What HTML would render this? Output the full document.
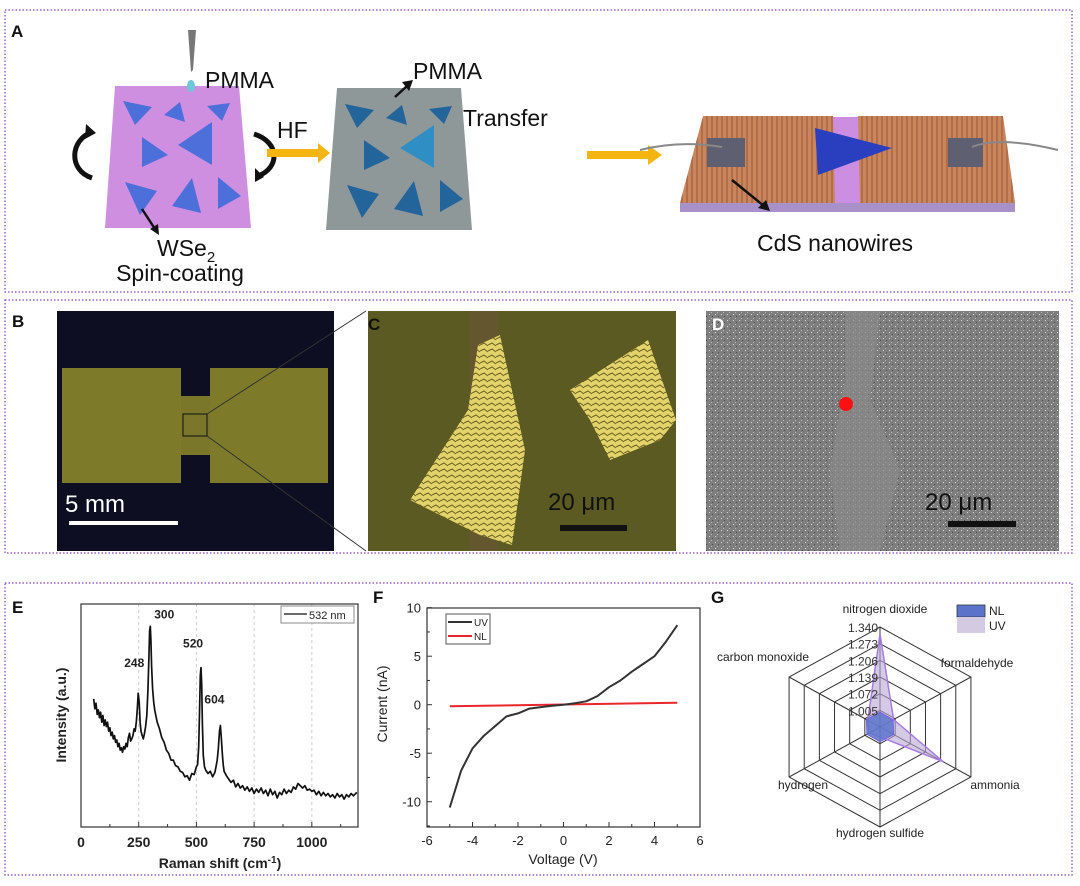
<!DOCTYPE html>
<html><head><meta charset="utf-8"><style>
html,body{margin:0;padding:0;background:#fff}
svg{display:block;font-family:"Liberation Sans",Arial,sans-serif}
</style></head><body>
<svg id="fig" width="1080" height="886" viewBox="0 0 1080 886" xmlns="http://www.w3.org/2000/svg">
<defs>
<pattern id="wires" width="5" height="6" patternUnits="userSpaceOnUse"><rect width="5" height="6" fill="#c9865c"/><line x1="2" y1="0" x2="2" y2="6" stroke="#9a5533" stroke-width="1"/></pattern>
<pattern id="sem" width="6" height="6" patternUnits="userSpaceOnUse"><rect width="6" height="6" fill="#7e7e7e"/><rect x="1" y="2" width="1" height="1" fill="#d8d8d8"/><rect x="4" y="4" width="1" height="1" fill="#4a4a4a"/><rect x="3" y="0" width="1" height="1" fill="#bbb"/></pattern>
<pattern id="flake" width="8" height="6" patternUnits="userSpaceOnUse"><rect width="8" height="6" fill="#e2d36a"/><path d="M0 3 L4 1 L8 4" stroke="#6b5f22" stroke-width="1" fill="none"/></pattern>
</defs>

<rect x="5" y="10" width="1067" height="282" fill="none" stroke="#9b5fc9" stroke-width="1.5" stroke-dasharray="1.5,2"/>
<rect x="5" y="300" width="1067" height="253" fill="none" stroke="#9b5fc9" stroke-width="1.5" stroke-dasharray="1.5,2"/>
<rect x="5" y="583" width="1067" height="292" fill="none" stroke="#9b5fc9" stroke-width="1.5" stroke-dasharray="1.5,2"/>

<g>
<text x="11" y="37" font-size="17" font-weight="bold" fill="#111">A</text>
<polygon points="115,86 239,86 251,228 105,228" fill="#cf8fe0"/>
<g fill="#4d6fd9">
<polygon points="123,101 152,107 135,125"/><polygon points="164,115 180,102 185,122"/><polygon points="207,106 230,103 222,121"/>
<polygon points="142,137 168,155 142,167"/><polygon points="178,145 212,122 212,165"/><polygon points="125,182 157,191 140,215"/>
<polygon points="172,206 192,178 201,213"/><polygon points="218,177 241,196 218,209"/>
</g>
<polygon points="188,30 196,30 193,70 191,72" fill="#777"/>
<ellipse cx="191" cy="86" rx="4" ry="6" fill="#6cc7d8"/>
<text x="205" y="88" font-size="23" fill="#111">PMMA</text>
<path d="M92,132 C70,140 68,170 92,178" fill="none" stroke="#111" stroke-width="5"/>
<polygon points="86,124 96,133 85,139" fill="#111"/>
<path d="M254,134 C280,142 280,168 258,176" fill="none" stroke="#111" stroke-width="5"/>
<polygon points="255,168 255,182 264,177" fill="#111"/>
<line x1="142" y1="209" x2="155" y2="229" stroke="#111" stroke-width="2.5"/><polygon points="150,229 159,235 158,224" fill="#111"/>
<text x="157" y="256" font-size="23" fill="#111">WSe<tspan font-size="15" dy="6">2</tspan></text>
<text x="180" y="281" font-size="23" fill="#111" text-anchor="middle">Spin-coating</text>
<text x="277" y="138" font-size="23" fill="#111">HF</text>
<polygon points="267,149 318,149 318,143 330,153 318,163 318,157 267,157" fill="#f4b512"/>
<polygon points="337,88 461,88 472,230 326,230" fill="#8f9899"/>
<g fill="#23649a">
<polygon points="345,104 374,110 357,128"/><polygon points="386,118 402,105 407,125"/><polygon points="429,109 452,106 444,124"/>
<polygon points="364,140 390,158 364,170"/><polygon points="400,148 434,125 434,168" fill="#2f8fc4"/><polygon points="347,185 379,194 362,218"/>
<polygon points="394,209 414,181 423,216"/><polygon points="440,180 463,199 440,212"/>
</g>
<line x1="395" y1="97" x2="407" y2="86" stroke="#111" stroke-width="2.5"/><polygon points="402,82 413,80 409,91" fill="#111"/>
<text x="413" y="79" font-size="23" fill="#111">PMMA</text>
<text x="463" y="126" font-size="23" fill="#111">Transfer</text>
<polygon points="587,151 648,151 648,145 662,155 648,165 648,159 587,159" fill="#f4b512"/>
<g>
<polygon points="680,203 1015,203 1015,212 680,212" fill="#a890c8"/>
<polygon points="703,117 1003,117 1015,203 680,203" fill="#cc8ee0"/>
<polygon points="703,116 833,116 835,203 680,203" fill="url(#wires)"/>
<polygon points="858,116 1003,116 1015,203 860,203" fill="url(#wires)"/>
<polygon points="707,138 745,138 745,167 707,167" fill="#5e5f70"/>
<polygon points="948,138 983,138 983,167 948,167" fill="#5e5f70"/>
<polygon points="815,128 892,148 818,175" fill="#2a3fc0"/>
<path d="M640,150 Q680,140 722,147" stroke="#888" stroke-width="2" fill="none"/>
<path d="M972,147 Q1000,136 1058,150" stroke="#888" stroke-width="2" fill="none"/>
<line x1="732" y1="180" x2="764" y2="206" stroke="#111" stroke-width="2.5"/><polygon points="758,208 770,211 766,200" fill="#111"/>
</g>
<text x="835" y="251" font-size="23" fill="#111" text-anchor="middle">CdS nanowires</text>
</g>

<g>
<rect x="57" y="311" width="277" height="240" fill="#0d0e22"/>
<rect x="62" y="368" width="119" height="115" fill="#7d7a2a"/>
<rect x="210" y="368" width="118" height="115" fill="#7d7a2a"/>
<rect x="181" y="396" width="29" height="59" fill="#7a772a"/>
<rect x="183" y="414" width="24" height="22" fill="none" stroke="#111" stroke-width="1"/>
<text x="65" y="512" font-size="24" fill="#fff">5 mm</text>
<rect x="69" y="521" width="109" height="4" fill="#fff"/>
<text x="12" y="327" font-size="17" font-weight="bold" fill="#111">B</text>
<line x1="207" y1="414" x2="366" y2="311" stroke="#333" stroke-width="1"/>
<line x1="207" y1="436" x2="366" y2="551" stroke="#333" stroke-width="1"/>
</g>
<g>
<rect x="368" y="311" width="308" height="240" fill="#5a5a22"/>
<rect x="470" y="311" width="28" height="240" fill="#6a5538" opacity="0.6"/>
<polygon points="468,410 478,345 500,335 525,450 512,545 480,535 410,500" fill="url(#flake)"/>
<polygon points="570,390 648,340 676,420 660,440 610,460 590,420" fill="url(#flake)"/>
<text x="368" y="330" font-size="17" font-weight="bold" fill="#111">C</text>
<text x="548" y="510" font-size="24" fill="#111">20 μm</text>
<rect x="560" y="525" width="67" height="6" fill="#111"/>
</g>
<g>
<rect x="706" y="311" width="353" height="240" fill="url(#sem)"/>
<polygon points="845,311 880,311 870,400 900,470 880,551 840,551 830,470 845,380" fill="#8a8a8a" opacity="0.7"/>
<circle cx="846" cy="404" r="7" fill="#ff1010"/>
<text x="712" y="330" font-size="17" font-weight="bold" fill="#fff">D</text>
<text x="925" y="510" font-size="24" fill="#111">20 μm</text>
<rect x="948" y="521" width="68" height="6" fill="#111"/>
</g>

<g id="panelE"></g>
<g id="panelF"></g>
<g id="panelG"></g>
</svg>

<script>
const ramanShift = [55,60,65,70,75,80,85,90,95,100,105,110,115,120,125,130,135,140,145,150,155,160,165,170,175,180,185,190,195,200,205,210,215,220,225,230,235,240,244,248,252,256,260,265,270,275,280,285,290,294,297,300,303,306,310,315,320,330,340,350,360,370,380,390,400,410,420,430,440,450,460,470,480,490,500,505,510,514,517,520,523,526,530,535,540,550,560,570,580,585,590,595,600,604,608,612,616,620,630,640,650,660,670,680,690,700,710,720,730,740,750,760,770,780,790,800,810,820,830,840,850,860,870,880,890,900,910,920,930,940,950,960,970,980,990,1000,1010,1020,1030,1040,1050,1060,1070,1080,1090,1100,1110,1120,1130,1140,1150,1160,1170,1180,1195];
const ramanIntensity = [575,530,555,505,525,490,515,470,500,455,480,450,470,430,445,410,425,395,410,380,390,360,375,345,355,335,360,350,375,360,400,420,385,395,410,440,430,475,530,600,560,470,430,410,395,420,450,500,610,760,880,900,840,720,620,560,520,470,440,400,380,345,330,300,300,275,270,250,245,225,230,210,240,235,270,280,360,530,680,715,640,460,320,270,255,240,250,225,245,270,300,350,430,455,400,330,280,250,230,215,200,210,180,195,175,185,165,180,160,175,150,170,155,175,150,165,140,170,145,160,130,155,145,170,150,165,155,180,170,195,185,175,185,165,170,160,165,145,160,140,155,140,150,135,145,130,150,135,145,125,145,135,150,140,155];
const ramanTicks = [0,250,500,750,1000];
const ramanPeakLabels = ["248","300","520","604"];
const ramanPeakShifts = [248,300,520,604];
const voltage = [-5,-4.5,-4,-3.5,-3,-2.5,-2,-1.5,-1,-0.5,0,0.5,1,1.5,2,2.5,3,3.5,4,4.5,5];
const currentUV = [-10.6,-6.8,-4.5,-3.2,-2.2,-1.2,-0.9,-0.4,-0.25,-0.1,0,0.15,0.35,0.9,1.8,2.5,3.4,4.2,5.0,6.5,8.2];
const voltageNL = [-5,5];
const currentNL = [-0.15,0.2];
const fXTicks = [-6,-4,-2,0,2,4,6];
const fYTicks = [-10,-5,0,5,10];
const gasCategories = ["nitrogen dioxide","formaldehyde","ammonia","hydrogen sulfide","hydrogen","carbon monoxide"];
const responseUV = [1.312,0.998,1.218,0.978,0.986,0.992];
const responseNL = [0.998,0.996,0.998,0.997,0.996,0.998];
const radarTicks = ["1.005","1.072","1.139","1.206","1.273","1.340"];
const radarTickValues = [1.005,1.072,1.139,1.206,1.273,1.340];

const NS = "http://www.w3.org/2000/svg";
function mk(parent, tag, attrs, text){
  const e = document.createElementNS(NS, tag);
  for (const k in attrs) e.setAttribute(k, attrs[k]);
  if (text !== undefined) e.textContent = text;
  parent.appendChild(e); return e;
}

(function(){
  const g = document.getElementById('panelE');
  const L=81,R=358,T=604,B=827;
  const xs = v => L + (v-0)/(1200-0)*(R-L);
  const ys = v => B - (v-0)/(1000-0)*(B-T);
  let t = mk(g,'text',{x:12,y:613,'font-size':17,'font-weight':'bold',fill:'#111'},'E');
   
  ramanTicks.slice(1).forEach(v=>{
    const l = mk(g,'line',{x1:xs(v),x2:xs(v),y1:T,y2:B,stroke:'#ccc','stroke-width':1,'stroke-dasharray':'3,3'});
     
  });
  const fr = mk(g,'rect',{x:L,y:T,width:R-L,height:B-T,fill:'none',stroke:'#333','stroke-width':1.2});
   
  for(let v=0; v<=1200; v+=125){
    const major = ramanTicks.indexOf(v)>=0;
    mk(g,'line',{x1:xs(v),x2:xs(v),y1:B,y2:B-(major?5:3),stroke:'#333','stroke-width':1});
  }
  ramanTicks.forEach(v=>{
    const tl = mk(g,'text',{x:xs(v),y:847,'font-size':14,'font-weight':'bold','text-anchor':'middle',fill:'#222'},String(v));
     
  });
  const d = ramanShift.map((s,i)=>(i?'L':'M')+xs(s).toFixed(1)+','+ys(ramanIntensity[i]).toFixed(1)).join(' ');
  const p = mk(g,'path',{d:d,fill:'none',stroke:'#111','stroke-width':1.7,'stroke-linejoin':'round'});
   
  const offs = [[-4,-26],[14,-8],[-8,-20],[-6,-22]];
  ramanPeakLabels.forEach((lab,i)=>{
    const idx = ramanShift.indexOf(ramanPeakShifts[i]);
    const yv = idx>=0 ? ramanIntensity[idx] : 500;
    const pl = mk(g,'text',{x:xs(ramanPeakShifts[i])+offs[i][0],y:ys(yv)+offs[i][1],'font-size':12,'font-weight':'bold','text-anchor':'middle',fill:'#222'},lab);
     
  });
  const lg = mk(g,'g',{});
   
  mk(lg,'rect',{x:281,y:606,width:73,height:17,fill:'#fff',stroke:'#888','stroke-width':1});
  mk(lg,'line',{x1:284,x2:307,y1:614,y2:614,stroke:'#111','stroke-width':1.3});
  mk(lg,'text',{x:309,y:619,'font-size':11,fill:'#222'},'532 nm');
  const yt = mk(g,'text',{x:0,y:0,'font-size':14,'font-weight':'bold','text-anchor':'middle',fill:'#222',transform:'translate(66,715) rotate(-90)'},'Intensity (a.u.)');
   
  const xt = mk(g,'text',{x:220,y:868,'font-size':14,'font-weight':'bold','text-anchor':'middle',fill:'#222'},'Raman shift (cm');
  mk(xt,'tspan',{dy:-5,'font-size':10},'-1');
  mk(xt,'tspan',{dy:5},')');
   
})();

(function(){
  const g = document.getElementById('panelF');
  const L=427,R=700,T=608,B=827;
  const xs = v => L + (v+6)/12*(R-L);
  const ys = v => 704.7 - v*9.7;
  let t = mk(g,'text',{x:373,y:603,'font-size':17,'font-weight':'bold',fill:'#111'},'F');
   
  const fr = mk(g,'rect',{x:L,y:T,width:R-L,height:B-T,fill:'none',stroke:'#333','stroke-width':1.2});
   
  for(let v=-6; v<=6; v+=1){
    const major = fXTicks.indexOf(v)>=0;
    mk(g,'line',{x1:xs(v),x2:xs(v),y1:B,y2:B-(major?5:3),stroke:'#333','stroke-width':1});
  }
  for(let v=-12.5; v<=10; v+=2.5){
    const major = fYTicks.indexOf(v)>=0;
    mk(g,'line',{x1:L,x2:L+(major?5:3),y1:ys(v),y2:ys(v),stroke:'#333','stroke-width':1});
  }
  fXTicks.forEach(v=>{
    const tl = mk(g,'text',{x:xs(v),y:845,'font-size':13,'text-anchor':'middle',fill:'#222'},String(v));
     
  });
  fYTicks.forEach(v=>{
    const tl = mk(g,'text',{x:L-6,y:ys(v)+5,'font-size':13,'text-anchor':'end',fill:'#222'},String(v));
     
  });
  const dn = voltageNL.map((v,i)=>(i?'L':'M')+xs(v).toFixed(1)+','+ys(currentNL[i]).toFixed(1)).join(' ');
  const pn = mk(g,'path',{d:dn,fill:'none',stroke:'#e8262b','stroke-width':2});
   
  const du = voltage.map((v,i)=>(i?'L':'M')+xs(v).toFixed(1)+','+ys(currentUV[i]).toFixed(1)).join(' ');
  const pu = mk(g,'path',{d:du,fill:'none',stroke:'#333','stroke-width':2,'stroke-linejoin':'round'});
   
  const lg = mk(g,'g',{});
   
  mk(lg,'rect',{x:446,y:614,width:44,height:30,fill:'#fff',stroke:'#555','stroke-width':1});
  mk(lg,'line',{x1:448,x2:472,y1:622,y2:622,stroke:'#333','stroke-width':2});
  mk(lg,'text',{x:474,y:626,'font-size':10,fill:'#222'},'UV');
  mk(lg,'line',{x1:448,x2:472,y1:636,y2:636,stroke:'#e8262b','stroke-width':2});
  mk(lg,'text',{x:474,y:640,'font-size':10,fill:'#222'},'NL');
  const yt = mk(g,'text',{x:0,y:0,'font-size':14,'text-anchor':'middle',fill:'#222',transform:'translate(387,704) rotate(-90)'},'Current (nA)');
   
  const xt = mk(g,'text',{x:563,y:864,'font-size':14,'text-anchor':'middle',fill:'#222'},'Voltage (V)');
   
})();

(function(){
  const g = document.getElementById('panelG');
  const cx=880, cy=727, Rmax=100, vmin=0.938, vmax=1.340;
  const rs = v => Math.max(0,(v-vmin)/(vmax-vmin))*Rmax;
  const n = gasCategories.length;
  const ang = i => -Math.PI/2 + i*2*Math.PI/n;
  const pt = (i,r) => [cx + r*Math.cos(ang(i))*1.05, cy + r*Math.sin(ang(i))];
  let t = mk(g,'text',{x:711,y:603,'font-size':17,'font-weight':'bold',fill:'#111'},'G');
   
  radarTickValues.forEach(v=>{
    const pts=[]; for(let i=0;i<n;i++) pts.push(pt(i,rs(v)).join(','));
    const ring = mk(g,'polygon',{points:pts.join(' '),fill:'none',stroke:'#333','stroke-width':1});
     
  });
  for(let i=0;i<n;i++){
    const p = pt(i,Rmax);
    const sp = mk(g,'line',{x1:cx,y1:cy,x2:p[0],y2:p[1],stroke:'#333','stroke-width':1});
     
  }
  const polyUV = responseUV.map((v,i)=>pt(i,rs(v)).join(',')).join(' ');
  const pu = mk(g,'polygon',{points:polyUV,fill:'#b9a7d6','fill-opacity':0.6,stroke:'#a77be0','stroke-width':1.5});
   
  const polyNL = responseNL.map((v,i)=>pt(i,rs(v)).join(',')).join(' ');
  const pn = mk(g,'polygon',{points:polyNL,fill:'#5b74c9','fill-opacity':0.85,stroke:'#7a5fe0','stroke-width':1});
   
  radarTicks.forEach((lab,i)=>{
    const tl = mk(g,'text',{x:cx-2,y:cy-rs(radarTickValues[i])+5,'font-size':12,'text-anchor':'end',fill:'#333'},lab);
     
  });
  const labPos = [[885,613,'middle'],[977,667,'middle'],[995,789,'middle'],[880,837,'middle'],[803,789,'middle'],[763,661,'middle']];
  gasCategories.forEach((c,i)=>{
    const cl = mk(g,'text',{x:labPos[i][0],y:labPos[i][1],'font-size':12,'text-anchor':labPos[i][2],fill:'#222'},c);
     
  });
  const lg = mk(g,'g',{});
   
  mk(lg,'rect',{x:957,y:605,width:28,height:12,fill:'#5b74c9',stroke:'#334',"stroke-width":0.8});
  mk(lg,'rect',{x:957,y:617,width:28,height:16,fill:'#d4cbe3'});
  mk(lg,'text',{x:989,y:615,'font-size':12,fill:'#222'},'NL');
  mk(lg,'text',{x:989,y:630,'font-size':12,fill:'#222'},'UV');
})();
</script>
</body></html>
